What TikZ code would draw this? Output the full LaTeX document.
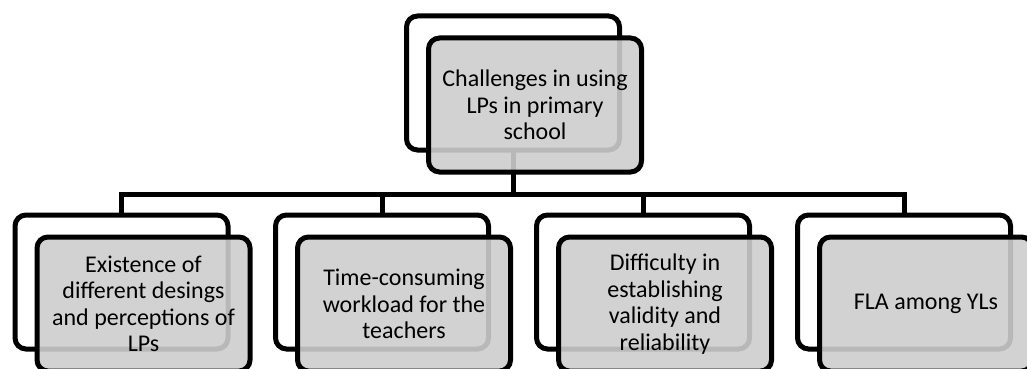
\documentclass[tikz,border=0pt]{standalone}
\usepackage{fontspec}
\setmainfont{Carlito}
\usetikzlibrary{backgrounds}
\definecolor{boxgray}{RGB}{205,205,205}
\begin{document}
\begin{tikzpicture}[x=1pt,y=-1pt,
  backbox/.style={draw=black, line width=5pt, rounded corners=11pt,
    minimum width=213pt, minimum height=134pt, inner sep=0pt, outer sep=0pt},
  frontbox/.style={backbox, fill=boxgray, fill opacity=0.9, text opacity=1,
    font=\fontsize{24}{26.5}\selectfont, align=center},
  link/.style={draw=black, line width=5pt}
]
\useasboundingbox (0,0) rectangle (1027,369);

% root: shadow frame and shaded card
\node[backbox]  (rootback) at (513,83) {};
\node[frontbox] (root)     at (535,105) {Challenges in using\\LPs in primary\\school};

% four children
\node[backbox]  (c1back) at (121.5,282) {};
\node[frontbox] (c1)     at (143.5,304) {Existence of\\different desings\\and perceptions of\\LPs};
\node[backbox]  (c2back) at (382,282) {};
\node[frontbox] (c2)     at (404,304) {Time-consuming\\workload for the\\teachers};
\node[backbox]  (c3back) at (643,282) {};
\node[frontbox] (c3)     at (665,304) {Difficulty in\\establishing\\validity and\\reliability};
\node[backbox]  (c4back) at (904,282) {};
\node[frontbox] (c4)     at (926,304) {FLA among YLs};

% tree connectors, behind the cards
\coordinate (bus) at (513,194);
\begin{scope}[on background layer]
  \draw[link] (rootback.south) -- (bus);
  \draw[link] (c1back.north) |- (bus) -| (c4back.north);
  \draw[link] (c2back.north) -- (c2back.north |- bus);
  \draw[link] (c3back.north) -- (c3back.north |- bus);
\end{scope}
\end{tikzpicture}
\end{document}
